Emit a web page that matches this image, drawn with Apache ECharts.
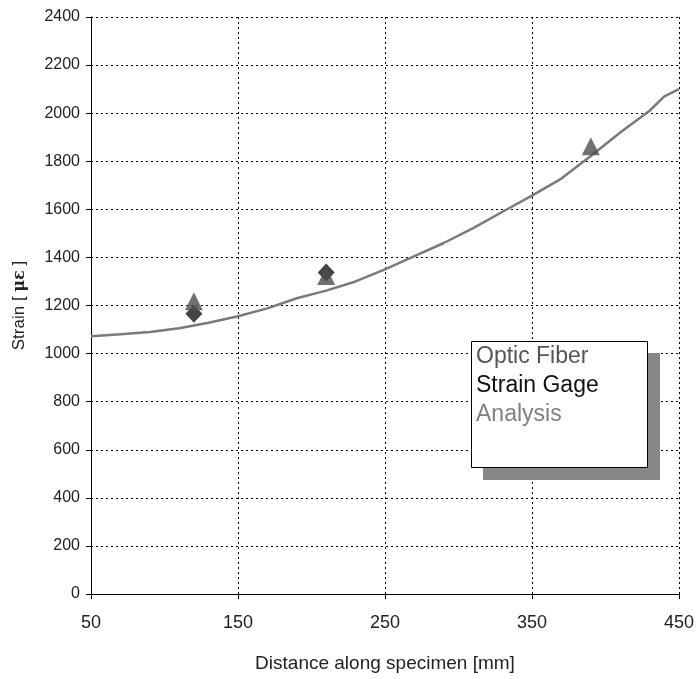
<!DOCTYPE html>
<html>
<head>
<meta charset="utf-8">
<script src="https://cdn.jsdelivr.net/npm/echarts@6/dist/echarts.min.js"></script>
<style>
html,body{margin:0;padding:0;background:#fff;}
#chart{width:697px;height:679px;}
</style>
</head>
<body>
<div id="chart"></div>
<script>
// Data
var opticFiberX = [120, 210, 390];
var opticFiberY = [1218, 1323, 1862];
var strainGageX = [120, 210];
var strainGageY = [1166, 1337];
var analysisX = [50, 70, 90, 110, 130, 150, 170, 190, 210, 230, 250, 270, 290, 310, 330, 350, 370, 390, 410, 430, 440, 450];
var analysisY = [1072, 1080, 1090, 1105, 1128, 1155, 1188, 1230, 1262, 1300, 1350, 1405, 1460, 1522, 1590, 1657, 1728, 1822, 1920, 2010, 2070, 2100];
var xTicks = [50, 150, 250, 350, 450];
var yTicks = [0, 200, 400, 600, 800, 1000, 1200, 1400, 1600, 1800, 2000, 2200, 2400];
var seriesNames = ['Optic Fiber', 'Strain Gage', 'Analysis'];

function zip(a, b) { return a.map(function (v, i) { return [v, b[i]]; }); }

var FONT = '"Liberation Sans", Arial, sans-serif';
var chart = echarts.init(document.getElementById('chart'), null, {renderer: 'canvas'});
chart.setOption({
  animation: false,
  backgroundColor: '#ffffff',
  grid: {left: 91, right: 18, top: 17, bottom: 85, containLabel: false},
  xAxis: {
    type: 'value',
    min: xTicks[0], max: xTicks[xTicks.length - 1], interval: 100,
    name: 'Distance along specimen [mm]',
    nameLocation: 'middle', nameGap: 60,
    nameTextStyle: {fontFamily: FONT, fontSize: 19, color: '#222'},
    axisLine: {show: true, onZero: false, lineStyle: {color: '#000', width: 1}},
    axisTick: {show: true, length: 5, lineStyle: {color: '#000'}},
    axisLabel: {fontFamily: FONT, fontSize: 18, color: '#222', margin: 20,
      formatter: function (v) { return String(v); }},
    splitLine: {show: true, lineStyle: {color: '#000', type: [2, 3], width: 1}}
  },
  yAxis: {
    type: 'value',
    min: yTicks[0], max: yTicks[yTicks.length - 1], interval: 200,
    name: 'Strain [ {b|με} ]',
    nameLocation: 'middle', nameGap: 63,
    nameTextStyle: {fontFamily: FONT, fontSize: 17, color: '#222',
      rich: {b: {fontFamily: '"DejaVu Serif", serif', fontWeight: 'bold', fontSize: 16, color: '#222'}}},
    axisLine: {show: true, lineStyle: {color: '#000', width: 1}},
    axisTick: {show: true, length: 5, lineStyle: {color: '#000'}},
    axisLabel: {fontFamily: FONT, fontSize: 16, color: '#222', margin: 11,
      formatter: function (v) { return String(v); }},
    splitLine: {show: true, lineStyle: {color: '#000', type: [2, 3], width: 1}}
  },
  legend: {
    orient: 'vertical',
    left: 471, top: 342,
    icon: 'none', itemWidth: 0, itemHeight: 0, itemGap: 0,
    padding: 0,
    selectedMode: false,
    data: [
      {name: seriesNames[0], textStyle: {color: '#555555'}},
      {name: seriesNames[1], textStyle: {color: '#111111'}},
      {name: seriesNames[2], textStyle: {color: '#808080'}}
    ],
    textStyle: {fontFamily: FONT, fontSize: 23, lineHeight: 29},
    z: 10
  },
  graphic: [
    {type: 'rect', shape: {x: 483, y: 353, width: 177, height: 127}, style: {fill: '#878787'}, z: 5},
    {type: 'rect', shape: {x: 471.5, y: 341.5, width: 176, height: 126}, style: {fill: '#fff', stroke: '#000', lineWidth: 1}, z: 6}
  ],
  series: [
    {
      name: seriesNames[2], type: 'line', data: zip(analysisX, analysisY),
      showSymbol: false, symbol: 'none', smooth: false,
      lineStyle: {color: '#7a7a7a', width: 2.5}, itemStyle: {color: '#808080'}, z: 2
    },
    {
      name: seriesNames[1], type: 'scatter', data: zip(strainGageX, strainGageY),
      symbol: 'diamond', symbolSize: [17, 18],
      itemStyle: {color: '#151515'}, z: 3
    },
    {
      name: seriesNames[0], type: 'scatter', data: zip(opticFiberX, opticFiberY),
      symbol: 'triangle', symbolSize: [18, 18],
      itemStyle: {color: '#4d4d4d'}, z: 4
    }
  ]
});
</script>
</body>
</html>
